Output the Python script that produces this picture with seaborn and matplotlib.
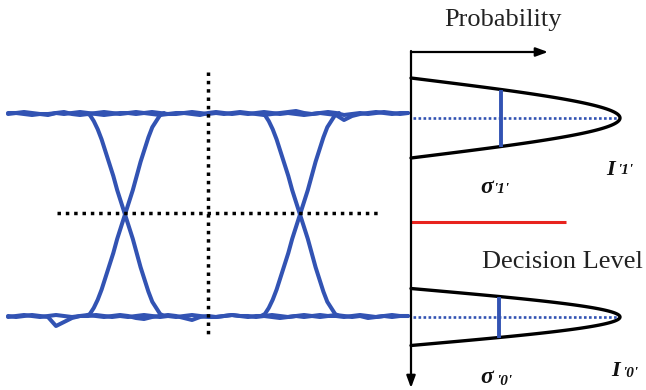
import numpy as np
import pandas as pd
import matplotlib
matplotlib.use("Agg")
import matplotlib.pyplot as plt
import seaborn as sns

# Canvas coordinates in pixels, y grows downward
eye_x_start, eye_x_end = 8, 408
level_high, level_low = 113, 316
crossings = [125, 300]
edge_width = 78
threshold_y = 213
threshold_span = [57, 381]
sample_x = 208
sample_span = [72, 338]

# normalised edge profile (fraction of edge time -> fraction of swing)
edge_t = [0.0, 0.05, 0.1, 0.15, 0.2, 0.25, 0.3, 0.35, 0.4, 0.45, 0.5,
          0.55, 0.6, 0.65, 0.7, 0.75, 0.8, 0.85, 0.9, 0.95, 1.0]
edge_v = [0.0, 0.01, 0.04, 0.08, 0.13, 0.19, 0.25, 0.31, 0.38, 0.44, 0.5,
          0.56, 0.62, 0.69, 0.76, 0.82, 0.88, 0.93, 0.96, 0.99, 1.0]

# level noise, one value every 8 px from eye_x_start
noise_step = 8
high_noise_a = [0, 0, 1, 2, 1, 2, 0, -1, 1, 2, 1, 0, -1, 0, 1, 0, -1, 0, 1, 2,
                1, 0, 0, -1, 0, 1, 0, 1, 0, -1, 0, 1, 2, 1, 0, -1, -2, 0, 1, 0,
                1, 2, 7, 3, 1, 0, -1, 0, 1, 0, 0]
high_noise_b = [1, 0, -1, 0, 1, 1, 0, 1, 0, -1, 0, 1, 2, 1, 0, 0, 1, 0, -1, 0,
                1, 1, 0, 1, 2, 0, -1, 0, 1, 0, 1, 0, -1, 0, 1, 0, 1, 2, 1, 0,
                -1, 0, 2, 1, 0, 1, 0, -1, 0, 1, 0]
low_noise_a = [0, 1, 0, -1, 0, 1, 10, 6, 2, 0, -1, 0, 1, 0, -1, 0, 2, 3, 1, 0,
               -1, 0, 2, 4, 1, 0, 1, 0, -1, 0, 1, 0, 0, 1, 2, 1, 0, -1, 0, 1,
               0, -1, 0, 1, 0, 2, 1, 0, -1, 0, 0]
low_noise_b = [1, 0, -1, 0, 1, 0, -1, 0, 1, 0, 0, -1, 0, 1, 0, 1, 0, -1, 0, 1,
               0, 1, 0, -1, 0, 1, 1, 0, -1, 0, 0, 1, 0, -1, 0, 1, 0, 1, 0, -1,
               0, 0, 1, 0, -1, 0, 1, 0, 1, 0, 0]

# probability panel
axis_x = 411
axis_top, axis_bottom = 52, 388
prob_arrow_end = 548
peak_x = 620
means = [118, 317]          # '1' and '0'
spreads = [40, 28.5]        # curve half height at the axis
sigma_marks = [28.5, 20.5]  # sigma bar half length
decision_y = 222
decision_end = 566

BLUE = "#3253b3"
RED = "#e8231e"

sns.set_theme(style="white")
plt.rcParams["font.family"] = ["Liberation Serif", "DejaVu Serif"]

fig = plt.figure(figsize=(6.46, 3.9), dpi=100)
ax = fig.add_axes([0, 0, 1, 1])
ax.set_xlim(0, 646)
ax.set_ylim(390, 0)
ax.axis("off")

# ---- eye diagram traces ----
rows = []
xs = eye_x_start + noise_step * np.arange(len(high_noise_a))
for name, base, noise in [("ha", level_high, high_noise_a), ("hb", level_high, high_noise_b),
                          ("la", level_low, low_noise_a), ("lb", level_low, low_noise_b)]:
    for x, n in zip(xs, noise):
        rows.append((name, x, base + n))
swing = level_low - level_high
for k, c in enumerate(crossings):
    for t, v in zip(edge_t, edge_v):
        x = c - edge_width / 2 + t * edge_width
        rows.append((f"fall{k}", x, level_high + v * swing))
        rows.append((f"rise{k}", x, level_low - v * swing))
eye = pd.DataFrame(rows, columns=["trace", "x", "y"])
sns.lineplot(data=eye, x="x", y="y", units="trace", estimator=None, sort=False,
             color=BLUE, lw=2.9, ax=ax, legend=False)

# dotted sampling and threshold guides
ax.plot(threshold_span, [threshold_y, threshold_y], color="black", lw=2.5,
        linestyle=(0, (1, 1.4)), dash_capstyle="butt")
ax.plot([sample_x, sample_x], sample_span, color="black", lw=2.5,
        linestyle=(0, (1, 1.4)), dash_capstyle="butt")

# ---- probability axes ----
ax.annotate("", xy=(axis_x, axis_bottom), xytext=(axis_x, axis_top - 1),
            arrowprops=dict(arrowstyle="-|>,head_length=0.6,head_width=0.22",
                            color="black", lw=1.6, shrinkA=0, shrinkB=0))
ax.annotate("", xy=(prob_arrow_end, axis_top), xytext=(axis_x, axis_top),
            arrowprops=dict(arrowstyle="-|>,head_length=0.6,head_width=0.22",
                            color="black", lw=1.6, shrinkA=0, shrinkB=0))

# Gaussian densities lying on their side, clipped at the axis
for mu, s, sm in zip(means, spreads, sigma_marks):
    dy = np.linspace(-s, s, 121)
    g = np.exp(-dy ** 2 / (2 * s ** 2))
    g0 = np.exp(-0.5)
    cx = axis_x + (g - g0) / (1 - g0) * (peak_x - axis_x)
    sns.lineplot(x=cx, y=mu + dy, sort=False, estimator=None, color="black",
                 lw=2.4, ax=ax)
    gm = np.exp(-sm ** 2 / (2 * s ** 2))
    bx = axis_x + (gm - g0) / (1 - g0) * (peak_x - axis_x)
    ax.plot([bx, bx], [mu - sm, mu + sm], color=BLUE, lw=2.8, solid_capstyle="butt")
    ax.plot([axis_x + 2, peak_x - 3], [mu, mu], color=BLUE, lw=1.9,
            linestyle=(0, (1, 0.9)), dash_capstyle="butt")

# decision level
ax.plot([axis_x, decision_end], [decision_y, decision_y], color=RED, lw=2.2,
        solid_capstyle="butt")

# ---- text ----
ax.text(503, 26, "Probability", fontsize=19, ha="center", va="baseline", color="#222222")
ax.text(482, 268, "Decision Level", fontsize=19, ha="left", va="baseline", color="#222222")

bi = dict(fontweight="bold", fontstyle="italic", color="#111111")
ax.text(606, 175, "I", fontsize=16, ha="left", va="baseline", **bi)
ax.text(618, 174, "'1'", fontsize=11, ha="left", va="baseline", **bi)
ax.text(611, 376, "I", fontsize=16, ha="left", va="baseline", **bi)
ax.text(623, 377, "'0'", fontsize=11, ha="left", va="baseline", **bi)
ax.text(480, 193, "σ", fontsize=17, ha="left", va="baseline", **bi)
ax.text(494, 193, "'1'", fontsize=11, ha="left", va="baseline", **bi)
ax.text(480, 383, "σ", fontsize=17, ha="left", va="baseline", **bi)
ax.text(497, 385, "'0'", fontsize=11, ha="left", va="baseline", **bi)

fig.savefig("out.png", dpi=100)
